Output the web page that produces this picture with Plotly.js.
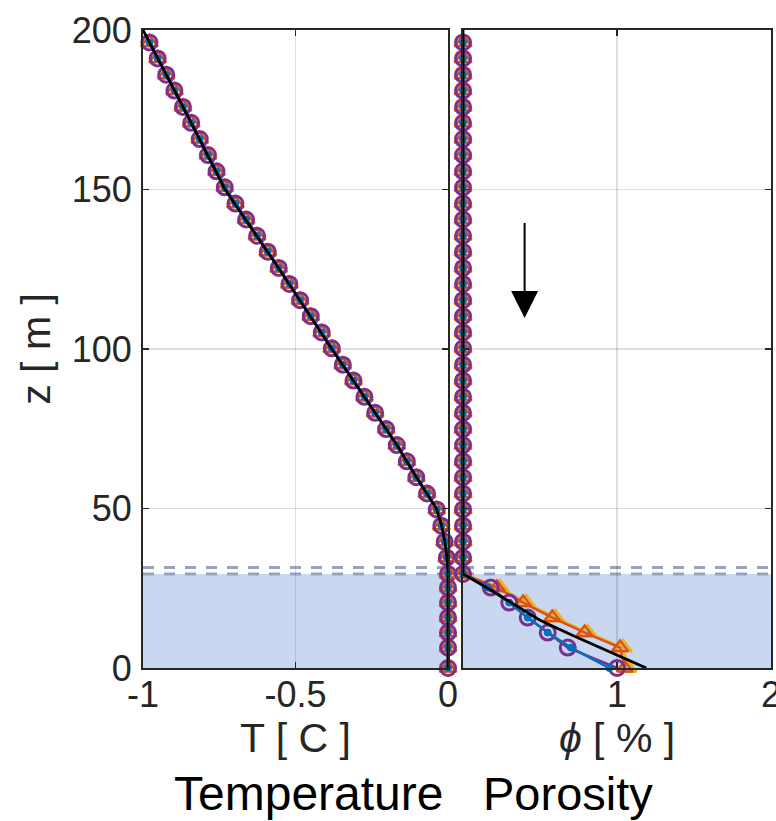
<!DOCTYPE html>
<html>
<head>
<meta charset="utf-8">
<script src="https://cdn.plot.ly/plotly-3.0.1.min.js"></script>
<style>html,body{margin:0;padding:0;background:#fff;}#chart{width:776px;height:821px;}</style>
</head>
<body>
<div id="chart"></div>
<script>
// depth of the model nodes [m]
const zNodes = [0, 6.4, 11.1, 15.8, 20.5, 25.2, 29.5, 34.6, 39.6, 44.6, 49.7, 54.7, 59.8, 64.8, 69.9, 74.9, 80.0, 85.0, 90.1, 95.1, 100.2, 105.2, 110.3, 115.3, 120.4, 125.4, 130.5, 135.5, 140.6, 145.6, 150.7, 155.7, 160.8, 165.8, 170.9, 175.9, 181.0, 186.0, 191.1, 196.1];
// temperature at the nodes [C] (same for all runs)
const tempNodes = [0, 0, 0, 0, 0, 0, 0, -0.004, -0.011, -0.022, -0.037, -0.069, -0.104, -0.135, -0.168, -0.203, -0.239, -0.274, -0.310, -0.345, -0.381, -0.414, -0.450, -0.485, -0.520, -0.555, -0.591, -0.626, -0.662, -0.697, -0.732, -0.759, -0.787, -0.814, -0.842, -0.869, -0.897, -0.924, -0.952, -0.979];
// porosity at the nodes [%] for each run
const phiBlue   = [0.95, 0.70, 0.55, 0.42, 0.30, 0.16, 0, 0, 0, 0, 0, 0, 0, 0, 0, 0, 0, 0, 0, 0, 0, 0, 0, 0, 0, 0, 0, 0, 0, 0, 0, 0, 0, 0, 0, 0, 0, 0, 0, 0];
const phiOrange = [1.05, 1.02, 0.79, 0.58, 0.39, 0.22, 0, 0, 0, 0, 0, 0, 0, 0, 0, 0, 0, 0, 0, 0, 0, 0, 0, 0, 0, 0, 0, 0, 0, 0, 0, 0, 0, 0, 0, 0, 0, 0, 0, 0];
const phiYellow = [1.07, 1.04, 0.81, 0.60, 0.41, 0.24, 0, 0, 0, 0, 0, 0, 0, 0, 0, 0, 0, 0, 0, 0, 0, 0, 0, 0, 0, 0, 0, 0, 0, 0, 0, 0, 0, 0, 0, 0, 0, 0, 0, 0];
const phiPurple = [1.00, 0.68, 0.55, 0.42, 0.30, 0.18, 0, 0, 0, 0, 0, 0, 0, 0, 0, 0, 0, 0, 0, 0, 0, 0, 0, 0, 0, 0, 0, 0, 0, 0, 0, 0, 0, 0, 0, 0, 0, 0, 0, 0];
// reference (black) solution
const exactTempZ = [200, 175, 150, 125, 100, 85, 70, 60, 55, 50, 45, 40, 35, 30, 0];
const exactTemp  = [-1, -0.864, -0.731, -0.553, -0.381, -0.274, -0.168, -0.105, -0.071, -0.038, -0.022, -0.011, -0.004, 0, 0];
const exactPhiZ = [200, 29.5, 25, 20, 15, 10, 5, 0];
const exactPhi  = [0, 0, 0.16, 0.33, 0.50, 0.72, 0.96, 1.19];
// layers / annotation values
const meltTop = 29.5, dashLevels = [29.5, 31.5];
const arrowX = 0.4, arrowFrom = 140, arrowTo = 109.7;
// axis ticks
const zTicks = [0, 50, 100, 150, 200], zTickText = ['0', '50', '100', '150', '200'];
const tTicks = [-1, -0.5, 0], tTickText = ['-1', '-0.5', '0'];
const phiTicks = [0, 1, 2], phiTickText = ['', '1', '2'];

const C = {blue:'#0072BD', orange:'#D95319', yellow:'#EDB120', purple:'#7E2F8E'};
const FONT = 'Liberation Sans, Arial, Helvetica, sans-serif';
const TXT = '#262626';

function runTrace(xa, ya, xs, col, sym, size, lw, mlw){
  return {
    x: xs, y: zNodes, xaxis: xa, yaxis: ya, type: 'scatter', mode: 'lines+markers',
    cliponaxis: false, showlegend: false, hoverinfo: 'skip',
    line: {color: col, width: lw},
    marker: {symbol: sym, size: size, color: col, line: {color: col, width: mlw}}
  };
}
const series = [
  ['yellow', phiYellow, 'triangle-up-open', 15, 2.5],
  ['orange', phiOrange, 'triangle-up-open', 14, 2.5],
  ['purple', phiPurple, 'circle-open', 15, 3],
  ['blue', phiBlue, 'circle', 7, 1]
];
const traces = [];
series.forEach(s => {
  traces.push(runTrace('x', 'y', tempNodes, C[s[0]], s[2], s[3], 2.5, s[4]));
  traces.push(runTrace('x2', 'y2', s[1], C[s[0]], s[2], s[3], 2.5, s[4]));
});
traces.push({x: exactTemp, y: exactTempZ, xaxis:'x', yaxis:'y', type:'scatter', mode:'lines', cliponaxis:false,
  line:{color:'#000', width:2.8}, showlegend:false, hoverinfo:'skip'});
traces.push({x: exactPhi, y: exactPhiZ, xaxis:'x2', yaxis:'y2', type:'scatter', mode:'lines', cliponaxis:false,
  line:{color:'#000', width:2.8}, showlegend:false, hoverinfo:'skip'});

const axCommon = {
  showgrid: true, gridcolor: 'rgba(38,38,38,0.15)', gridwidth: 1.5, zeroline: false,
  showline: true, linecolor: TXT, linewidth: 2, mirror: 'ticks',
  ticks: 'inside', ticklen: 6, tickwidth: 1.5, tickcolor: TXT,
  tickfont: {family: FONT, size: 36, color: TXT}, fixedrange: true, ticklabeloverflow: 'allow'
};
const shapes = [];
[['x','y'],['x2','y2']].forEach(p => {
  shapes.push({type:'rect', xref:p[0]+' domain', yref:p[1], x0:0, x1:1, y0:0, y1:meltTop,
    fillcolor:'#c9d8f0', line:{width:0}, layer:'below'});
  dashLevels.forEach(lv => shapes.push({type:'line', xref:p[0]+' domain', yref:p[1], x0:0, x1:1, y0:lv, y1:lv,
    line:{color:'#98a3bf', width:3, dash:'11px,10px'}, layer:'below'}));
});

const layout = {
  width: 776, height: 821,
  margin: {l: 143, r: 5, t: 30, b: 153},
  paper_bgcolor: '#fff', plot_bgcolor: '#fff',
  font: {family: FONT, color: TXT},
  showlegend: false,
  xaxis: Object.assign({}, axCommon, {domain:[0, 0.4857], range:[-1, 0], tickvals: tTicks, ticktext: tTickText, anchor:'y',
    ticklabelstandoff: -6,
    title:{text:'T [ C ]', font:{family:FONT, size:41, color:TXT}, standoff: 6}}),
  xaxis2: Object.assign({}, axCommon, {domain:[0.5096, 1], range:[0, 2], tickvals: phiTicks, ticktext: phiTickText, anchor:'y2',
    ticklabelstandoff: -6,
    title:{text:'<i>ϕ</i> [ % ]', font:{family:FONT, size:41, color:TXT}, standoff: 6}}),
  yaxis: Object.assign({}, axCommon, {domain:[0,1], range:[0, 200], tickvals: zTicks, ticktext: zTickText, anchor:'x',
    ticklabelstandoff: 2,
    title:{text:'z [ m ]', font:{family:FONT, size:41, color:TXT}, standoff: 8}}),
  yaxis2: Object.assign({}, axCommon, {domain:[0,1], range:[0, 200], tickvals: zTicks, showticklabels:false, anchor:'x2'}),
  shapes: shapes,
  annotations: [
    {xref:'paper', yref:'paper', x:0.263, y:-0.197, text:'Temperature', showarrow:false, xanchor:'center', yanchor:'middle',
      font:{family:FONT, size:48, color:'#000'}},
    {xref:'paper', yref:'paper', x:0.676, y:-0.197, text:'Porosity', showarrow:false, xanchor:'center', yanchor:'middle',
      font:{family:FONT, size:47, color:'#000'}},
    {xref:'x2', yref:'y2', x:arrowX, y:arrowTo, axref:'x2', ayref:'y2', ax:arrowX, ay:arrowFrom, text:'',
      showarrow:true, arrowhead:2, arrowsize:2.7, arrowwidth:2, arrowcolor:'#000'}
  ]
};
Plotly.newPlot('chart', traces, layout, {displayModeBar:false, staticPlot:true});
</script>
</body>
</html>
